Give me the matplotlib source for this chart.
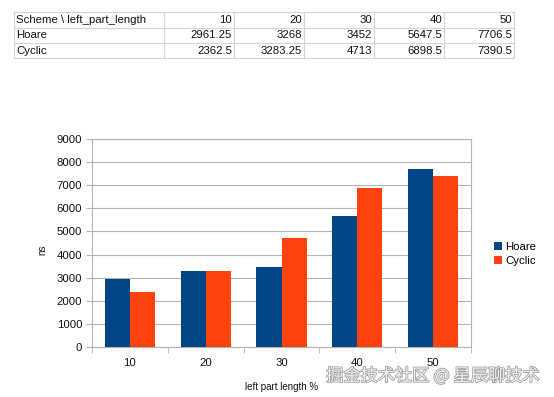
import matplotlib
matplotlib.use("Agg")
import matplotlib.pyplot as plt
import matplotlib.patheffects as pe
import numpy as np
from matplotlib.lines import Line2D

categories = ["10", "20", "30", "40", "50"]
hoare = [2961.25, 3268, 3452, 5647.5, 7706.5]
cyclic = [2362.5, 3283.25, 4713, 6898.5, 7390.5]
hoare_txt = ["2961.25", "3268", "3452", "5647.5", "7706.5"]
cyclic_txt = ["2362.5", "3283.25", "4713", "6898.5", "7390.5"]
yticks = [0, 1000, 2000, 3000, 4000, 5000, 6000, 7000, 8000, 9000]

W, H = 554, 397
plt.rcParams['font.family'] = ['Liberation Sans', 'DejaVu Sans']
fig = plt.figure(figsize=(W / 100, H / 100), dpi=100)

def fx(px):
    return px / W

def fy(py):
    return 1 - py / H

# ---- table at top ----
col_edges = [14, 164, 234, 304, 374, 444, 514]
row_edges = [12, 28, 43, 58]
gc = "#d4d4d4"
for xe in col_edges:
    fig.add_artist(Line2D([fx(xe), fx(xe)], [fy(row_edges[0]), fy(row_edges[-1])], color=gc, lw=0.8))
for ye in row_edges:
    fig.add_artist(Line2D([fx(col_edges[0]), fx(col_edges[-1])], [fy(ye), fy(ye)], color=gc, lw=0.8))
rows = [["Scheme \\ left_part_length"] + categories,
        ["Hoare"] + hoare_txt,
        ["Cyclic"] + cyclic_txt]
for r, row in enumerate(rows):
    yc = (row_edges[r] + row_edges[r + 1]) / 2
    for c, val in enumerate(row):
        if c == 0:
            fig.text(fx(col_edges[0] + 2), fy(yc), val, ha="left", va="center", fontsize=8.2, color="#111111")
        else:
            fig.text(fx(col_edges[c + 1] - 2), fy(yc), val, ha="right", va="center", fontsize=8.2, color="#111111")

# ---- chart ----
ax = fig.add_axes([fx(92), fy(347), fx(471) - fx(92), fy(139) - fy(347)])
x = np.arange(len(categories))
bw = 0.33
ax.bar(x - bw / 2, hoare, bw, color="#004586", label="Hoare", zorder=3)
ax.bar(x + bw / 2, cyclic, bw, color="#ff420e", label="Cyclic", zorder=3)
ax.set_xlim(-0.5, len(categories) - 0.5)
ax.set_ylim(0, 9000)
ax.set_yticks(yticks)
ax.set_yticklabels([str(v) for v in yticks], fontsize=8.2, color="#111111")
ax.set_xticks(x)
ax.set_xticklabels(categories, fontsize=8.2, color="#111111")
ax.tick_params(axis="x", length=0, pad=8)
ax.set_xticks(np.arange(-0.5, len(categories), 1), minor=True)
ax.tick_params(axis="x", which="minor", length=4, color="#b3b3b3", direction="out")
ax.tick_params(axis="y", length=4, color="#b3b3b3", direction="out", pad=3)
ax.grid(axis="y", color="#b3b3b3", lw=0.8, zorder=0)
for s in ax.spines.values():
    s.set_color("#b3b3b3")
    s.set_linewidth(0.8)
ax.set_ylabel("ns", fontsize=7, color="#111111")
ax.yaxis.set_label_coords((42 - 92) / (471 - 92), (347 - 250) / (347 - 139))
ax.set_xlabel("left part length %", fontsize=7, color="#111111")
ax.xaxis.set_label_coords(0.5, -(387 - 347) / (347 - 139))
ax.xaxis.label.set_va("center")
ax.yaxis.label.set_va("center")

leg = fig.legend(loc="center left", bbox_to_anchor=(fx(489), fy(254)), frameon=False,
                 fontsize=8.2, handlelength=0.7, handleheight=0.7, handletextpad=0.3,
                 labelspacing=0.4, borderaxespad=0)

fig.text(fx(540), fy(376), "掘金技术社区 @ 星辰聊技术", ha="right", va="center", fontsize=12.4,
         color="#f2f2f2", family=["Noto Sans CJK SC", "DejaVu Sans"],
         path_effects=[pe.withStroke(linewidth=1.1, foreground="#9a9a9a")])

fig.savefig("out.png", dpi=100)
